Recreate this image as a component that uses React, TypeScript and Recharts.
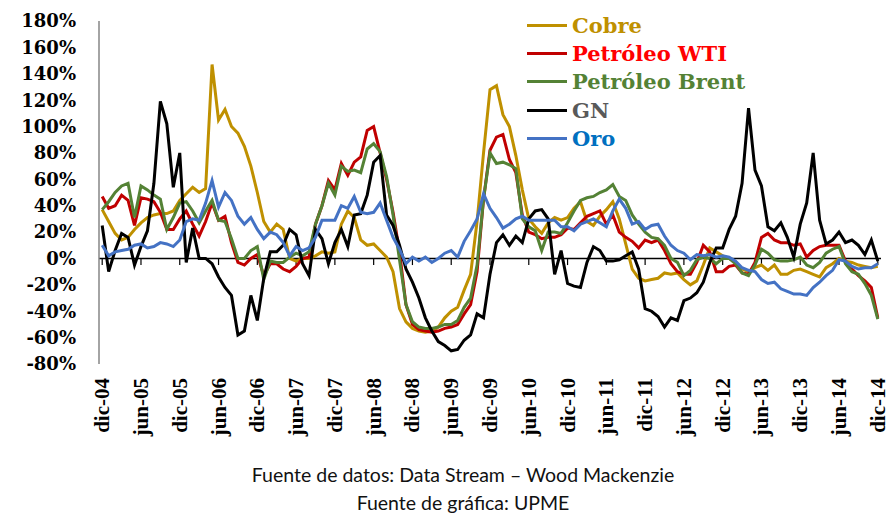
import { Line, LineChart, ReferenceLine, XAxis, YAxis } from "recharts";

const meses = ["ene", "feb", "mar", "abr", "may", "jun", "jul", "ago", "sep", "oct", "nov", "dic"];

// dic-04 ... dic-14, mensual
const periodos: string[] = [];
for (let k = 0; k < 121; k++) {
  const m = (11 + k) % 12;
  const yy = 4 + Math.floor((11 + k) / 12);
  periodos.push(`${meses[m]}-${String(yy).padStart(2, "0")}`);
}

const yTicks = [-80, -60, -40, -20, 0, 20, 40, 60, 80, 100, 120, 140, 160, 180];

// variación anual (%)
const cobre = [
  37, 28, 19, 14, 16, 22, 27, 31, 33, 34,
  34, 36, 44, 49, 54, 50, 53, 147, 105, 113,
  100, 95, 85, 70, 50, 28, 20, 26, 22, 0,
  -2, 0, 0, 2, 5, 4, 5, 26, 36, 31,
  14, 10, 11, 6, 1, -10, -38, -48, -53, -55,
  -56, -55, -52, -45, -40, -37, -24, -12, 28, 80,
  128, 131, 109, 100, 78, 52, 30, 24, 19, 27,
  31, 29, 31, 38, 43, 28, 25, 32, 37, 43,
  30, 11, -8, -15, -17, -16, -15, -11, -12, -11,
  -16, -20, -17, -5, 8, 5, 2, 0, -3, -8,
  -10, -7, -5, -9, -5, -12, -12, -9, -8, -10,
  -12, -14, -7, -4, 0, -2, -3, -5, -6, -7,
  -6,
];

const wti = [
  47, 38, 40, 48, 44, 25, 46, 45, 43, 35,
  22, 22, 30, 36, 26, 17, 28, 42, 29, 32,
  12, -3, -5, 0, 3, -13, -4, -4, -8, -10,
  -6, 0, 1, 26, 40, 59, 52, 72, 63, 73,
  77, 97, 100, 80, 60, 35, 5, -35, -50, -54,
  -55, -56, -55, -53, -52, -50, -42, -35, -10, 45,
  82, 92, 94, 75, 65, 33, 20, 18, 15, 16,
  16, 18, 23, 22, 27, 32, 34, 36, 26, 33,
  20, 16, 13, 8, 14, 12, 14, 6, -4, -10,
  -12, -12, -3, 10, 5, -10, -10, -6, -5, -11,
  -12, -3, 16, 19, 14, 12, 12, 10, 11, 1,
  6, 9, 10, 10, 10, -2, -8, -13, -17, -22,
  -45,
];

const brent = [
  37, 43, 50, 55, 57, 31, 55, 52, 48, 45,
  22, 31, 42, 43, 36, 27, 36, 44, 29, 28,
  15, 0, 0, 6, 9, -16, -2, -3, -3, 1,
  4, 2, 5, 26, 40, 57, 48, 70, 66, 67,
  65, 83, 87, 81, 62, 33, -1, -35, -48, -52,
  -53, -53, -52, -50, -50, -47, -37, -30, -5, 45,
  80, 72, 73, 71, 68, 30, 24, 21, 6, 20,
  20, 19, 27, 36, 44, 46, 47, 50, 52, 56,
  47, 44, 33, 26, 20, 16, 15, 10, 0, -3,
  -13, -9, -1, 1, 0, -4, 0, 0, -4, -11,
  -13, -5, 7, 4, -1, -2, -2, -1, 1, -5,
  -7, -3, 4, 7, 9, -4, -10, -12, -19, -28,
  -46,
];

const gn = [
  25, -10, 6, 19, 16, -5, 9, 21, 57, 119,
  102, 54, 80, -3, 23, 0, 0, -4, -14, -22,
  -28, -58, -55, -28, -47, -15, 5, 5, 10, 22,
  18, -4, -13, 22, 15, -4, 12, 22, 9, 33,
  34, 48, 73, 78, 33, 25, 10, -8, -18, -30,
  -45, -55, -63, -66, -70, -69, -62, -58, -42, -45,
  -12, 12, 18, 10, 17, 12, 30, 36, 37, 30,
  -12, 6, -19, -21, -22, -3, 9, 6, -2, -2,
  -1, 2, 5, -8, -38, -40, -44, -52, -45, -47,
  -32, -30, -26, -18, -3, 8, 8, 22, 32, 57,
  114, 67, 55, 24, 21, 27, 16, 1, 26, 42,
  80, 29, 11, 14, 20, 12, 14, 10, 3, 14,
  -2,
];

const oro = [
  10, 2, 5, 6, 7, 10, 11, 8, 9, 12,
  11, 9, 14, 28, 30, 29, 42, 59, 39, 50,
  44, 32, 26, 31, 22, 15, 20, 18, 12, 2,
  9, 6, 8, 16, 29, 29, 29, 40, 38, 47,
  35, 34, 35, 42, 29, 16, 7, -4, 1, -2,
  1, -3, 0, 4, 6, 1, 13, 21, 30, 49,
  38, 31, 23, 26, 30, 32, 29, 29, 29, 29,
  29, 24, 24, 21, 26, 28, 30, 27, 24, 36,
  45, 38, 26, 28, 22, 25, 26, 17, 10, 6,
  4, -1, 3, 2, 3, 1, 2, 1, -2, -7,
  -9, -10, -16, -19, -18, -23, -25, -27, -27, -28,
  -22, -18, -13, -9, -1, -2, -6, -8, -7, -7,
  -4,
];

const series = [
  { key: "cobre", name: "Cobre", color: "#BF9000", text: "#BF9000" },
  { key: "wti", name: "Petróleo WTI", color: "#C00000", text: "#FF0000" },
  { key: "brent", name: "Petróleo Brent", color: "#548235", text: "#548235" },
  { key: "gn", name: "GN", color: "#000000", text: "#595959" },
  { key: "oro", name: "Oro", color: "#4472C4", text: "#0070C0" },
];

const data = periodos.map((periodo, i) => ({
  periodo,
  cobre: cobre[i],
  wti: wti[i],
  brent: brent[i],
  gn: gn[i],
  oro: oro[i],
}));

const tickPeriodos = periodos.filter((_, i) => i % 6 === 0);

const serif = "'DejaVu Serif', serif";

function XTick({ x, y, payload }: any) {
  return (
    <text
      x={x}
      y={y}
      transform={`rotate(-90, ${x}, ${y})`}
      textAnchor="end"
      dominantBaseline="central"
      fontFamily="'Liberation Serif', serif"
      fontWeight="bold"
      fontSize={21}
      fill="#000"
    >
      {payload.value}
    </text>
  );
}

function Leyenda() {
  return (
    <div
      style={{
        position: "absolute",
        top: 11,
        left: 527,
        fontFamily: serif,
        fontWeight: "bold",
        fontSize: 21,
      }}
    >
      {series.map((s) => (
        <div key={s.key} style={{ display: "flex", alignItems: "center", height: 28.3 }}>
          <span style={{ width: 40, height: 3, background: s.color, marginRight: 5 }} />
          <span style={{ color: s.text }}>{s.name}</span>
        </div>
      ))}
    </div>
  );
}

export default function App() {
  return (
    <div style={{ position: "relative", width: 888, height: 514, background: "#fff" }}>
      <style>{"body{margin:0}"}</style>
      <LineChart
        width={888}
        height={514}
        data={data}
        margin={{ top: 21, right: 7, bottom: 60, left: 0 }}
      >
        <XAxis
          dataKey="periodo"
          ticks={tickPeriodos}
          interval={0}
          padding={{ left: 3.2, right: 3.2 }}
          axisLine={false}
          tickLine={false}
          tickSize={0}
          tickMargin={14}
          height={90}
          tick={<XTick />}
        />
        <YAxis
          domain={[-80, 180]}
          ticks={yTicks}
          interval={0}
          width={99}
          axisLine={{ stroke: "#868686", strokeWidth: 1.5 }}
          tickLine={false}
          tickSize={0}
          tickMargin={23}
          tickFormatter={(v) => `${v}%`}
          tick={{ fontFamily: serif, fontWeight: "bold", fontSize: 18, fill: "#000" }}
        />
        <ReferenceLine y={0} stroke="#000" strokeWidth={1.5} />
        {tickPeriodos.map((p) => (
          <ReferenceLine
            key={p}
            segment={[
              { x: p, y: 0 },
              { x: p, y: -5 },
            ]}
            stroke="#000"
            strokeWidth={1.2}
          />
        ))}
        {series.map((s) => (
          <Line
            key={s.key}
            dataKey={s.key}
            name={s.name}
            stroke={s.color}
            strokeWidth={3}
            dot={false}
            activeDot={false}
            isAnimationActive={false}
          />
        ))}
      </LineChart>
      <Leyenda />
      <div
        style={{
          position: "absolute",
          left: 0,
          width: 926,
          top: 461,
          textAlign: "center",
          fontFamily: "Lato, sans-serif",
          fontSize: 19.5,
          lineHeight: "28px",
          color: "#111",
        }}
      >
        <div>Fuente de datos: Data Stream – Wood Mackenzie</div>
        <div>Fuente de gráfica: UPME</div>
      </div>
    </div>
  );
}
